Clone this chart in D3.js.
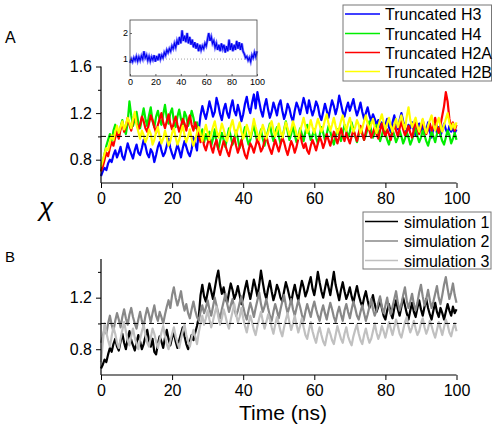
<!DOCTYPE html>
<html><head><meta charset="utf-8">
<script src="https://cdn.jsdelivr.net/npm/d3@7"></script>
<style>body{margin:0;background:#fff}svg{display:block}text{font-family:"Liberation Sans",Arial,sans-serif}</style>
</head><body><svg id="c" width="497" height="430"></svg>
<script>
// time in ns, 0.5 ns sampling
const time = d3.range(201).map(i => i * 0.5);
const insetTime = d3.range(0, 101);

const h3 = [
0.66,0.70,0.73,0.71,0.77,0.80,0.78,0.84,0.88,0.82, 0.86,0.91,0.83,0.80,0.87,0.94,0.89,0.85,0.81,0.88,
0.93,0.86,0.84,0.90,0.97,0.92,0.85,0.82,0.89,0.86, 0.78,0.84,0.91,0.95,0.88,0.83,0.86,0.92,0.98,0.90,
0.85,0.81,0.87,0.93,0.88,0.82,0.90,0.96,0.91,0.86, 0.83,0.89,0.99,0.94,0.88,1.05,1.18,1.26,1.20,1.15,
1.22,1.30,1.24,1.17,1.21,1.33,1.27,1.19,1.14,1.23, 1.28,1.20,1.16,1.25,1.31,1.22,1.18,1.27,1.21,1.13,
1.19,1.28,1.34,1.25,1.20,1.29,1.36,1.24,1.38,1.30, 1.22,1.17,1.26,1.32,1.23,1.16,1.21,1.29,1.24,1.18,
1.27,1.31,1.22,1.15,1.20,1.28,1.24,1.17,1.13,1.22, 1.29,1.25,1.19,1.26,1.33,1.27,1.20,1.31,1.24,1.18,
1.23,1.30,1.26,1.18,1.14,1.21,1.28,1.22,1.16,1.24, 1.31,1.26,1.19,1.25,1.35,1.28,1.21,1.17,1.24,1.29,
1.22,1.27,1.32,1.24,1.18,1.23,1.29,1.21,1.15,1.20, 1.25,1.18,1.13,1.19,1.15,1.10,1.14,1.08,1.12,1.06,
1.10,1.15,1.08,1.04,1.12,1.18,1.11,1.06,1.14,1.20, 1.13,1.08,1.03,1.10,1.07,1.12,1.05,1.01,1.08,1.11,
1.05,1.09,1.02,1.06,1.12,1.04,0.99,1.07,1.10,1.03, 1.08,1.01,1.05,1.11,1.06,1.02,1.09,1.04,1.07,1.03,
1.06];
const h4 = [
0.70,0.78,0.85,0.92,0.97,1.02,0.96,1.05,1.10,1.03, 0.99,1.08,1.14,1.06,1.02,1.12,1.30,1.18,1.09,1.15,
1.21,1.12,1.07,1.16,1.24,1.15,1.09,1.18,1.25,1.13, 1.08,1.17,1.22,1.14,1.10,1.19,1.27,1.16,1.11,1.20,
1.24,1.13,1.08,1.17,1.23,1.15,1.10,1.21,1.17,1.09, 1.14,1.22,1.16,1.07,1.12,1.05,0.99,1.06,0.95,1.02,
0.97,1.04,0.92,0.98,1.06,0.94,0.89,0.96,1.03,0.97, 0.91,0.99,1.07,1.00,0.93,0.97,1.05,0.98,0.90,0.95,
1.02,1.08,0.99,0.93,0.97,1.04,1.10,1.01,0.95,1.00, 1.06,0.98,0.92,0.99,1.05,1.11,1.02,0.96,1.03,1.08,
1.00,0.94,0.98,1.06,1.13,1.04,0.97,1.02,1.09,1.01, 0.95,1.00,1.07,1.02,0.96,1.04,1.10,1.03,0.97,1.01,
1.06,0.99,0.94,1.01,1.08,1.03,0.97,1.02,1.09,1.04, 0.98,0.93,1.00,1.06,1.01,0.96,1.03,1.10,1.05,0.99,
1.04,1.12,1.06,1.00,0.95,1.02,1.08,1.03,0.97,1.01, 1.07,1.13,1.05,0.99,1.04,1.10,1.02,0.96,1.01,1.07,
1.03,0.97,0.93,1.00,1.06,1.01,0.95,0.99,1.05,1.00, 0.94,0.98,1.04,0.99,0.93,0.97,1.03,1.07,1.00,0.95,
0.99,1.05,1.01,0.96,0.92,0.98,1.04,1.00,0.95,1.02, 1.07,1.01,0.96,0.93,0.99,1.05,1.01,0.94,0.98,1.03,
0.97];
const h2a = [
0.70,0.74,0.80,0.86,0.83,0.90,0.95,0.92,0.99,1.04, 0.98,1.06,1.12,1.04,1.09,1.16,1.10,1.05,1.13,1.19,
1.12,1.06,1.10,1.17,1.13,1.07,1.04,1.11,1.18,1.14, 1.08,1.03,1.10,1.15,1.20,1.12,1.07,1.13,1.19,1.11,
1.06,1.12,1.17,1.10,1.04,1.09,1.15,1.11,1.05,1.13, 1.18,1.10,1.05,1.12,1.07,1.01,0.95,1.00,0.92,0.88,
0.94,0.99,0.91,0.86,0.93,0.97,0.89,0.84,0.90,0.96, 0.92,0.87,0.83,0.90,0.95,0.99,0.92,0.86,0.91,0.97,
0.90,0.84,0.81,0.88,0.94,0.91,0.86,0.92,0.98,0.93, 0.87,0.90,0.96,1.01,0.94,0.89,0.85,0.91,0.97,0.92,
0.87,0.93,0.99,0.95,0.89,0.84,0.90,0.96,0.92,0.86, 0.91,0.98,1.03,0.95,0.90,0.94,0.88,0.85,0.92,0.97,
0.93,0.88,0.94,1.00,0.96,0.90,0.95,1.02,0.97,0.92, 0.98,1.04,0.99,0.94,1.00,1.07,1.01,0.96,1.03,0.98,
0.94,1.00,1.06,1.01,0.96,1.03,1.09,1.02,0.97,1.04, 1.10,1.05,0.99,1.03,1.08,1.02,0.98,1.05,1.11,1.04,
1.00,1.06,1.02,0.97,1.04,1.10,1.05,1.00,1.07,1.13, 1.06,1.01,1.04,1.09,1.03,0.99,1.06,1.12,1.07,1.02,
1.08,1.14,1.07,1.02,1.06,1.11,1.05,1.09,1.16,1.08, 1.03,1.10,1.18,1.26,1.38,1.30,1.15,1.08,1.12,1.05,
1.10];
const h2b = [
0.74,0.79,0.85,0.90,0.88,0.95,1.01,0.97,1.04,1.09, 1.03,1.08,1.13,1.06,1.10,1.16,1.12,1.07,1.15,1.21,
1.10,1.04,0.98,1.05,1.01,0.95,0.99,1.06,1.02,0.93, 0.97,1.04,1.08,1.00,0.94,0.98,1.05,0.99,0.92,0.96,
1.03,1.07,0.99,0.93,0.97,1.04,1.09,1.01,0.95,1.00, 1.06,0.98,0.92,0.97,1.03,1.08,1.02,0.96,1.04,1.10,
1.03,0.97,1.02,1.08,1.13,1.05,0.99,1.04,1.11,1.06, 1.00,0.96,1.03,1.09,1.14,1.06,1.01,1.07,1.12,1.04,
0.98,1.03,1.10,1.05,0.99,1.06,1.15,1.08,1.02,0.97, 1.04,1.10,1.05,0.98,1.03,1.09,1.13,1.06,1.00,1.05,
1.11,1.04,0.99,1.05,1.12,1.07,1.01,1.06,1.13,1.08, 1.02,0.98,1.05,1.10,1.16,1.09,1.03,1.07,1.14,1.08,
1.03,1.09,1.15,1.10,1.04,1.08,1.14,1.19,1.11,1.05, 1.10,1.16,1.09,1.03,1.07,1.13,1.18,1.10,1.05,1.11,
1.16,1.09,1.04,1.08,1.14,1.10,1.03,1.07,1.13,1.18, 1.11,1.06,1.10,1.15,1.08,1.03,1.09,1.14,1.19,1.12,
1.06,1.11,1.16,1.09,1.04,1.10,1.15,1.08,1.13,1.18, 1.11,1.06,1.17,1.25,1.14,1.08,1.12,1.16,1.09,1.04,
1.10,1.15,1.08,1.03,1.09,1.14,1.18,1.10,1.05,1.11, 1.16,1.09,1.04,1.10,1.15,1.20,1.12,1.06,1.11,1.07,
1.12];
const insetH3 = [0.85,1.0,0.9,1.05,0.95,1.1,0.92,1.08,0.95,1.12,1.0,1.3,1.05,1.15,0.95,1.1,0.92,1.08,0.97,1.15,0.9,1.12,0.95,1.2,1.0,1.15,1.05,1.25,1.15,1.35,1.25,1.4,1.3,1.5,1.4,1.6,1.45,1.7,1.55,1.85,1.6,2.1,1.7,1.9,1.65,2.0,1.6,1.85,1.55,1.75,1.45,1.65,1.4,1.6,1.3,1.55,1.35,1.5,1.4,1.6,1.5,1.75,2.0,1.7,1.85,1.6,1.7,1.45,1.6,1.35,1.55,1.3,1.6,1.4,1.55,1.25,1.5,1.3,1.75,1.35,1.6,1.3,1.55,1.35,1.7,1.4,1.65,1.35,1.6,1.3,1.2,1.05,1.1,0.95,1.05,0.9,1.15,1.05,1.25,1.1,1.3];
const sim1 = [
0.65,0.68,0.72,0.70,0.76,0.81,0.78,0.84,0.88,0.82, 0.79,0.86,0.92,0.85,0.80,0.88,0.94,0.87,0.83,0.79,
0.85,0.91,0.86,0.80,0.84,0.90,0.95,0.87,0.82,0.88, 0.78,0.76,0.84,0.90,0.86,0.81,0.89,0.95,0.88,0.83,
0.89,0.93,0.86,0.81,0.87,0.92,0.97,0.90,0.84,0.80, 0.86,0.91,0.87,0.93,0.98,1.05,1.22,1.30,1.21,1.17,
1.24,1.31,1.25,1.19,1.27,1.35,1.41,1.30,1.23,1.28, 1.20,1.16,1.24,1.31,1.26,1.19,1.23,1.29,1.22,1.15,
1.20,1.27,1.33,1.25,1.19,1.26,1.34,1.28,1.21,1.30, 1.41,1.32,1.24,1.19,1.27,1.33,1.25,1.18,1.23,1.30,
1.26,1.20,1.17,1.25,1.32,1.27,1.21,1.16,1.24,1.30, 1.23,1.18,1.26,1.33,1.28,1.21,1.25,1.31,1.36,1.27,
1.22,1.30,1.40,1.32,1.25,1.20,1.27,1.34,1.28,1.22, 1.31,1.40,1.30,1.24,1.18,1.26,1.32,1.25,1.19,1.23,
1.28,1.21,1.16,1.23,1.29,1.22,1.17,1.13,1.20,1.25, 1.18,1.12,1.16,1.22,1.15,1.09,1.13,1.19,1.12,1.06,
1.03,1.10,1.15,1.08,1.04,1.12,1.18,1.11,1.06,1.13, 1.20,1.14,1.08,1.03,1.10,1.16,1.09,1.05,1.12,1.18,
1.11,1.06,1.13,1.19,1.12,1.07,1.03,1.10,1.16,1.09, 1.05,1.12,1.08,1.03,1.09,1.15,1.10,1.06,1.13,1.08,
1.11];
const sim2 = [
0.85,0.90,0.96,0.92,1.00,1.06,0.99,0.94,1.02,1.08, 1.03,0.97,1.05,1.11,1.04,0.99,1.07,1.12,1.05,1.00,
0.96,1.03,1.09,1.02,0.98,1.06,1.12,1.07,1.01,1.08, 1.14,1.06,1.02,1.09,1.05,1.00,1.07,1.13,1.18,1.12,
1.22,1.28,1.20,1.14,1.19,1.25,1.16,1.10,1.15,1.08, 1.04,1.11,1.17,1.10,1.05,1.02,1.09,1.14,1.08,1.12,
1.18,1.11,1.06,1.13,1.20,1.14,1.08,1.04,1.11,1.17, 1.23,1.15,1.09,1.14,1.19,1.12,1.06,1.10,1.16,1.21,
1.13,1.07,1.03,1.10,1.16,1.11,1.05,1.12,1.18,1.24, 1.15,1.09,1.13,1.19,1.12,1.06,1.02,1.09,1.15,1.10,
1.04,1.11,1.17,1.22,1.14,1.08,1.13,1.19,1.11,1.06, 1.12,1.18,1.13,1.07,1.02,1.09,1.15,1.10,1.05,1.12,
1.17,1.11,1.06,1.02,1.09,1.14,1.08,1.03,1.10,1.16, 1.11,1.05,1.01,1.08,1.13,1.07,1.02,1.10,1.15,1.09,
1.04,1.11,1.17,1.12,1.06,1.03,1.09,1.14,1.08,1.02, 1.07,1.13,1.19,1.11,1.06,1.10,1.16,1.21,1.13,1.08,
1.14,1.20,1.12,1.07,1.13,1.19,1.25,1.16,1.10,1.15, 1.22,1.28,1.18,1.12,1.17,1.23,1.15,1.10,1.16,1.24,
1.30,1.21,1.14,1.19,1.26,1.18,1.12,1.17,1.23,1.29, 1.20,1.15,1.22,1.30,1.36,1.27,1.19,1.24,1.31,1.22,
1.16];
const sim3 = [
0.70,0.85,1.00,0.93,0.87,0.82,0.90,0.97,0.92,0.85, 0.81,0.88,0.95,1.01,0.94,0.87,0.83,0.90,0.96,0.89,
0.84,0.80,0.88,0.94,0.99,0.91,0.85,0.82,0.89,0.96, 0.92,0.86,0.81,0.87,0.93,0.98,0.90,0.84,0.80,0.86,
0.92,0.97,0.90,0.85,0.81,0.88,0.94,0.99,0.91,0.86, 0.82,0.89,0.95,0.90,0.84,0.93,1.00,1.06,0.99,1.04,
1.10,1.03,0.97,1.02,1.08,1.13,1.05,0.99,1.04,1.11, 1.06,1.00,0.96,1.03,1.09,1.15,1.07,1.01,1.05,1.12,
1.04,0.98,0.93,1.00,1.06,1.01,0.95,0.91,0.98,1.04, 1.09,1.02,0.96,1.01,1.07,1.03,0.97,0.92,0.99,1.05,
1.00,0.94,0.90,0.97,1.03,1.08,1.01,0.95,1.00,1.06, 0.99,0.93,0.98,1.04,0.97,0.91,0.88,0.95,1.01,0.94,
0.89,0.85,0.92,0.97,0.91,0.86,0.83,0.90,0.96,0.92, 0.87,0.84,0.91,0.98,0.93,0.88,0.85,0.92,0.97,0.90,
0.86,0.83,0.90,0.95,0.99,0.92,0.87,0.84,0.91,0.96, 0.90,0.85,0.88,0.94,1.00,0.93,0.88,0.92,0.98,0.94,
0.89,0.95,1.01,0.96,0.91,0.97,1.03,0.98,0.92,0.89, 0.95,1.01,1.05,0.98,0.93,0.97,1.02,0.96,0.91,0.94,
1.00,1.04,0.97,0.92,0.96,1.02,0.98,0.93,0.89,0.95, 1.01,0.96,0.91,0.97,1.03,0.99,0.93,0.90,0.96,1.00,
0.94];

const topSeries = [
  {name:"Truncated H3", values:h3, color:"#0000ff"},
  {name:"Truncated H4", values:h4, color:"#00ee00"},
  {name:"Truncated H2A", values:h2a, color:"#ff0000"},
  {name:"Truncated H2B", values:h2b, color:"#ffff00"}
];
const botSeries = [
  {name:"simulation 1", values:sim1, color:"#000000"},
  {name:"simulation 2", values:sim2, color:"#888888"},
  {name:"simulation 3", values:sim3, color:"#c0c0c0"}
];
const xTicks = [0,20,40,60,80,100];
const topYTicks = [0.8,1.2,1.6];
const topYMinor = [1.0,1.4];
const botYTicks = [0.8,1.2];
const botYMinor = [1.0,1.4];
const insetYTicks = [1,2];

const svg = d3.select("#c");
const FONT = '"Liberation Sans",Arial,sans-serif';

function panel(ySeries, yDomain, yRange, yTicks, yMinor, xAxisY){
  const x = d3.scaleLinear().domain([0,100]).range([101,456.5]);
  const y = d3.scaleLinear().domain(yDomain).range(yRange);
  const g = svg.append("g");
  const line = d3.line().x((d,i)=>x(time[i])).y(d=>y(d));
  ySeries.forEach(s=>{
    g.append("path").attr("d", line(s.values)).attr("fill","none")
     .attr("stroke", s.color).attr("stroke-width",2.2).attr("stroke-linejoin","round");
  });
  g.append("line").attr("x1",x(0)).attr("x2",x(100)).attr("y1",y(1)).attr("y2",y(1))
    .attr("stroke","#000").attr("stroke-width",1).attr("stroke-dasharray","5,3");
  const ya = g.append("g").attr("transform","translate(101,0)")
    .call(d3.axisLeft(y).tickValues(yTicks).tickSize(5).tickPadding(4).tickFormat(d3.format(".1f")));
  ya.append("g").selectAll("line").data(yMinor).join("line")
    .attr("x1",-3).attr("x2",0).attr("y1",d=>y(d)+0.5).attr("y2",d=>y(d)+0.5).attr("stroke","#000");
  const xa = g.append("g").attr("transform",`translate(0,${xAxisY})`)
    .call(d3.axisBottom(x).tickValues(xTicks).tickSize(5).tickPadding(5).tickFormat(d3.format("d")));
  [ya,xa].forEach(a=>{
    a.selectAll("text").attr("font-size",16).attr("font-family",FONT).attr("fill","#000");
    a.select(".domain").attr("stroke","#000").attr("stroke-width",1.2);
    a.selectAll(".tick line").attr("stroke","#000");
  });
  xa.select(".domain").attr("d",`M${x(0)},0H${x(100)}`);
  ya.select(".domain").attr("d",`M0,${yRange[0]}V${yRange[1]}`);
  return {x,y};
}

panel(topSeries, [0.6,1.6], [183,66.5], topYTicks, topYMinor, 183);
panel(botSeries, [0.6,1.5], [375,259], botYTicks, botYMinor, 375);

// inset
const ix = d3.scaleLinear().domain([0,100]).range([130,257]);
const iy = d3.scaleLinear().domain([0.35,2.5]).range([76,20]);
const ig = svg.append("g");
ig.append("rect").attr("x",130).attr("y",20).attr("width",127).attr("height",56).attr("fill","#fff");
ig.append("line").attr("x1",ix(0)).attr("x2",ix(100)).attr("y1",iy(1)).attr("y2",iy(1))
  .attr("stroke","#888").attr("stroke-width",0.8).attr("stroke-dasharray","1,2");
const iline = d3.line().x((d,i)=>ix(insetTime[i])).y(d=>iy(d));
ig.append("path").attr("d",iline(insetH3)).attr("fill","none").attr("stroke","#7070ff").attr("stroke-width",2.6);
ig.append("path").attr("d",iline(insetH3)).attr("fill","none").attr("stroke","#0000ee").attr("stroke-width",1.1);
ig.append("rect").attr("x",130).attr("y",20).attr("width",127).attr("height",56).attr("fill","none").attr("stroke","#444").attr("stroke-width",0.8);
const ixa = ig.append("g").attr("transform","translate(0,76)")
  .call(d3.axisBottom(ix).tickValues(xTicks).tickSize(-2).tickPadding(3).tickFormat(d3.format("d")));
const iya = ig.append("g").attr("transform","translate(130,0)")
  .call(d3.axisLeft(iy).tickValues(insetYTicks).tickSize(-2).tickPadding(2).tickFormat(d3.format("d")));
[ixa,iya].forEach(a=>{
  a.select(".domain").remove();
  a.selectAll("text").attr("font-size",9).attr("font-family",FONT).attr("fill","#000");
  a.selectAll(".tick line").attr("stroke","#444").attr("stroke-width",0.8);
});

// legends
function legend(series, x0, y0, w, h, rowY, lx1, lx2, tx){
  const g = svg.append("g");
  g.append("rect").attr("x",x0).attr("y",y0).attr("width",w).attr("height",h)
    .attr("fill","#fff").attr("stroke","#777").attr("stroke-width",1);
  series.forEach((s,i)=>{
    g.append("line").attr("x1",lx1).attr("x2",lx2).attr("y1",rowY[i]).attr("y2",rowY[i])
      .attr("stroke",s.color).attr("stroke-width",1.5);
    g.append("text").attr("x",tx).attr("y",rowY[i]+6).attr("font-size",16).attr("font-family",FONT).text(s.name);
  });
}
legend(topSeries, 343, 5, 148.5, 76, [14,33.5,52.5,71.5], 345, 380, 385);
legend(botSeries, 363, 212, 128, 57, [221.5,241,260.5], 365, 398, 404);

// labels
svg.append("text").attr("x",5).attr("y",43).attr("font-size",16).attr("font-family",FONT).text("A");
svg.append("text").attr("x",5).attr("y",262).attr("font-size",15).attr("font-family",FONT).text("B");
svg.append("text").attr("x",46).attr("y",216).attr("font-size",26).attr("text-anchor","middle")
  .attr("font-family",'"DejaVu Serif",serif').attr("font-style","italic").text("χ");
svg.append("text").attr("x",283).attr("y",420).attr("font-size",21).attr("text-anchor","middle").attr("font-family",FONT).text("Time (ns)");
</script></body></html>
